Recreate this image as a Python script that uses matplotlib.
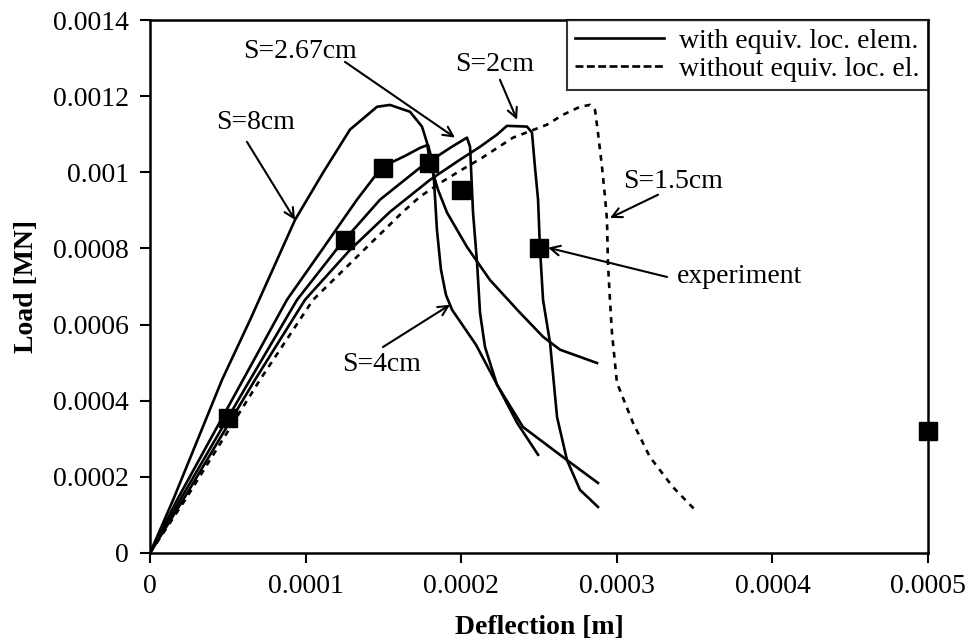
import matplotlib
matplotlib.use("Agg")
import matplotlib.pyplot as plt
import numpy as np

plt.rcParams['font.family'] = ['Liberation Serif', 'DejaVu Serif']

# ---- data (x: deflection [m], y: load [MN]) ----
s8_x = np.array([0, 0.148, 0.463, 0.643, 0.932, 1.112, 1.285, 1.459, 1.542, 1.671, 1.748, 1.780,
                 1.799, 1.851, 1.909, 2.037, 2.185, 2.378, 2.526, 2.635, 2.873]) * 1e-4
s8_y = np.array([0, 0.139, 0.455, 0.612, 0.875, 0.999, 1.112, 1.172, 1.177, 1.159, 1.120, 1.078,
                 1.025, 0.954, 0.894, 0.804, 0.717, 0.631, 0.568, 0.534, 0.499]) * 1e-3

s4_x = np.array([0, 0.1735, 0.598, 0.880, 1.105, 1.330, 1.491, 1.639, 1.735, 1.787, 1.812, 1.825,
                 1.844, 1.870, 1.902, 1.941, 2.095, 2.249, 2.359, 2.494]) * 1e-4
s4_y = np.array([0, 0.139, 0.455, 0.665, 0.796, 0.928, 1.014, 1.043, 1.064, 1.072, 1.033, 0.980,
                 0.849, 0.744, 0.678, 0.639, 0.547, 0.428, 0.342, 0.258]) * 1e-3

s267_x = np.array([0, 0.193, 0.643, 0.945, 1.221, 1.478, 1.735, 1.928, 2.037, 2.057, 2.076, 2.102,
                   2.121, 2.153, 2.230, 2.397, 2.680, 2.879]) * 1e-4
s267_y = np.array([0, 0.139, 0.455, 0.665, 0.809, 0.928, 1.012, 1.064, 1.091, 1.067, 0.894, 0.762,
                   0.631, 0.541, 0.442, 0.331, 0.244, 0.184]) * 1e-3

s2_x = np.array([0, 0.212, 0.675, 0.996, 1.285, 1.542, 1.799, 1.992, 2.121, 2.230, 2.294, 2.423,
                 2.455, 2.474, 2.494, 2.506, 2.526, 2.571, 2.616, 2.680, 2.763, 2.879]) * 1e-4
s2_y = np.array([0, 0.139, 0.455, 0.665, 0.796, 0.896, 0.980, 1.033, 1.067, 1.099, 1.122, 1.120,
                 1.104, 1.014, 0.928, 0.802, 0.665, 0.552, 0.357, 0.244, 0.166, 0.121]) * 1e-3

s15_x = np.array([0, 0.225, 0.707, 1.048, 1.375, 1.620, 1.735, 1.877, 2.005, 2.134, 2.333, 2.551,
                  2.654, 2.763, 2.828, 2.860, 2.879, 2.905, 2.924, 2.937, 2.943, 2.956, 2.969,
                  3.001, 3.104, 3.213, 3.361, 3.503]) * 1e-4
s15_y = np.array([0, 0.139, 0.455, 0.665, 0.796, 0.894, 0.936, 0.975, 1.007, 1.038, 1.091, 1.125,
                  1.151, 1.172, 1.177, 1.164, 1.104, 1.014, 0.936, 0.875, 0.762, 0.665, 0.578,
                  0.447, 0.342, 0.252, 0.173, 0.113]) * 1e-3

exp_x = [0.00005, 0.000125, 0.00015, 0.000179, 0.0002, 0.00025, 0.0005]
exp_y = [0.000355, 0.000823, 0.001012, 0.001025, 0.000954, 0.0008, 0.00032]

x_ticks = [0, 0.0001, 0.0002, 0.0003, 0.0004, 0.0005]
x_tick_labels = ['0', '0.0001', '0.0002', '0.0003', '0.0004', '0.0005']
y_ticks = [0, 0.0002, 0.0004, 0.0006, 0.0008, 0.001, 0.0012, 0.0014]
y_tick_labels = ['0', '0.0002', '0.0004', '0.0006', '0.0008', '0.001', '0.0012', '0.0014']

legend_labels = ['with equiv. loc. elem.', 'without equiv. loc. el.']

# annotations: (text, text_xy, arrow_start, arrow_tip, ha)
annotations = [
    ('S=8cm', (0.681e-4, 1.130e-3), (0.623e-4, 1.080e-3), (0.932e-4, 0.875e-3), 'center'),
    ('S=2.67cm', (0.964e-4, 1.317e-3), (1.253e-4, 1.290e-3), (1.960e-4, 1.091e-3), 'center'),
    ('S=2cm', (2.217e-4, 1.283e-3), (2.249e-4, 1.243e-3), (2.359e-4, 1.138e-3), 'center'),
    ('S=1.5cm', (3.361e-4, 0.975e-3), (3.265e-4, 0.941e-3), (2.956e-4, 0.880e-3), 'center'),
    ('experiment', (3.387e-4, 0.725e-3), (3.323e-4, 0.725e-3), (2.558e-4, 0.802e-3), 'left'),
    ('S=4cm', (1.485e-4, 0.494e-3), (1.497e-4, 0.541e-3), (1.928e-4, 0.652e-3), 'center'),
]

FS = 20

fig = plt.figure(figsize=(9.7, 6.4), dpi=100)
ax = fig.add_axes([150 / 970, 1 - 553 / 640, (928 - 150) / 970, (553 - 20) / 640])

lw = 1.9
dash = (0, (2.2, 2.2))
l1, = ax.plot(s8_x, s8_y, color='black', lw=lw)
ax.plot(s4_x, s4_y, color='black', lw=lw)
ax.plot(s267_x, s267_y, color='black', lw=lw)
ax.plot(s2_x, s2_y, color='black', lw=lw)
l2, = ax.plot(s15_x, s15_y, color='black', lw=lw, linestyle=dash)
ax.plot(exp_x, exp_y, linestyle='none', marker='s', markersize=13, color='black', clip_on=False, zorder=5)

for txt, txy, start, tip, ha in annotations:
    ax.annotate('', xy=tip, xytext=start,
                arrowprops=dict(arrowstyle='->,head_length=0.7,head_width=0.35', color='black', lw=1.5,
                                shrinkA=0, shrinkB=0))
    ax.text(txy[0], txy[1], txt, ha=ha, va='center', fontsize=FS)

ax.set_xlim(0, 0.0005)
ax.set_ylim(0, 0.0014)
ax.set_xticks(x_ticks)
ax.set_xticklabels(x_tick_labels, fontsize=FS)
ax.set_yticks(y_ticks)
ax.set_yticklabels(y_tick_labels, fontsize=FS)
ax.tick_params(direction='out', length=7, width=1.5, pad=8)
for sp in ax.spines.values():
    sp.set_linewidth(1.8)

ax.set_xlabel('Deflection [m]', fontsize=FS, fontweight='bold', labelpad=12)
ax.set_ylabel('Load [MN]', fontsize=FS, fontweight='bold', labelpad=10)

leg = ax.legend([l1, l2], legend_labels, loc='upper right', bbox_to_anchor=(1, 1), borderaxespad=0,
                fontsize=FS, frameon=True, fancybox=False, edgecolor='black', handlelength=3.2,
                handletextpad=0.55, labelspacing=0.1, borderpad=0.3)
leg.get_frame().set_linewidth(1.5)
leg.legend_handles[1].set_linestyle((0, (3.0, 1.3)))

fig.savefig('out.png', dpi=100)
